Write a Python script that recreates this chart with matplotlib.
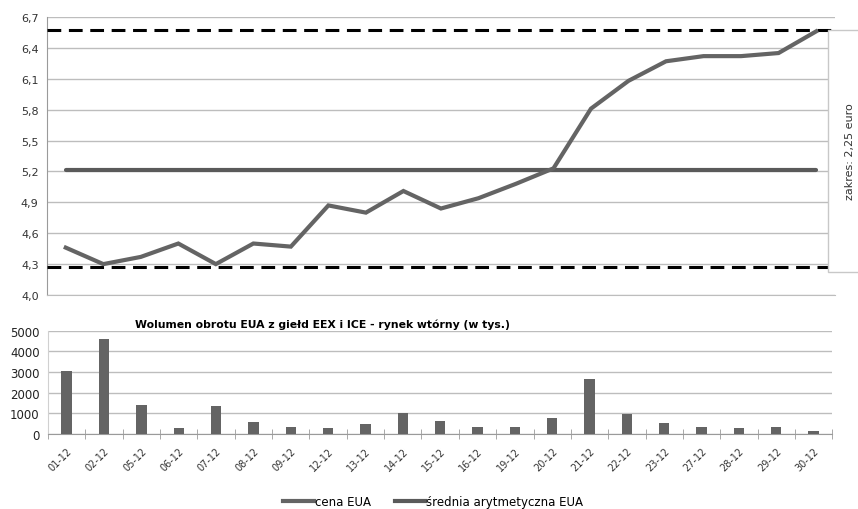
import numpy as np
import matplotlib
matplotlib.use("Agg")
import matplotlib.pyplot as plt
from matplotlib.patches import Rectangle
from matplotlib.lines import Line2D

# dane
dni = ["01-12", "02-12", "05-12", "06-12", "07-12", "08-12", "09-12", "12-12",
       "13-12", "14-12", "15-12", "16-12", "19-12", "20-12", "21-12", "22-12",
       "23-12", "27-12", "28-12", "29-12", "30-12"]
cena = [4.46, 4.30, 4.37, 4.50, 4.30, 4.50, 4.47, 4.87, 4.80, 5.01, 4.84,
        4.94, 5.08, 5.23, 5.81, 6.08, 6.27, 6.32, 6.32, 6.35, 6.56]
srednia = 5.21
wolumen = [3060, 4620, 1420, 270, 1350, 580, 350, 270, 470, 1010, 630,
           320, 320, 760, 2640, 950, 550, 320, 270, 320, 145]
tyt_wol = "Wolumen obrotu EUA z giełd EEX i ICE - rynek wtórny (w tys.)"
zakres_txt = "zakres: 2,25 euro"

x = np.arange(len(dni))
szary = "#646464"
siatka = "#bdbdbd"

fig = plt.figure(figsize=(8.58, 5.10), dpi=100)

# --- wykres ceny ---
ax1 = fig.add_axes([0.0548, 0.4196, 0.9182, 0.5451])
ax1.set_xlim(-0.5, len(dni) - 0.5)
ax1.set_ylim(4.0, 6.7)
yt = np.arange(4.0, 6.71, 0.3)
ax1.set_yticks(yt)
ax1.set_yticklabels([f"{v:.1f}".replace(".", ",") for v in yt], fontsize=8, color="#333333")
ax1.set_xticks([])
ax1.grid(axis="y", color=siatka, lw=1)
ax1.set_axisbelow(True)
for s in ["top", "right"]:
    ax1.spines[s].set_visible(False)
ax1.spines["bottom"].set_color(siatka)
ax1.spines["left"].set_color("#9a9a9a")
ax1.tick_params(axis="y", length=0, pad=6)

ax1.axhline(min(cena) - 0.025, color="black", lw=2.2, dashes=(4.5, 2.5), zorder=3)
ax1.axhline(max(cena) + 0.015, color="black", lw=2.2, dashes=(4.5, 2.5), zorder=3)
ax1.plot([x[0], x[-1]], [srednia, srednia], color="#5a5a5a", lw=3, solid_capstyle="round", zorder=4)
ax1.plot(x, cena, color=szary, lw=3, solid_joinstyle="miter", zorder=5)

# ramka z zakresem
box = Rectangle((828 / 858, 1 - 273 / 510), 0.08, (273 - 30.7) / 510,
                transform=fig.transFigure, facecolor="white", edgecolor="#c8c8c8",
                lw=1, zorder=6)
fig.add_artist(box)
fig.text(850 / 858, 1 - 152 / 510, zakres_txt, rotation=90, ha="center", va="center",
         fontsize=8, color="#333333", zorder=7)

# --- wykres wolumenu ---
ax2 = fig.add_axes([0.056, 0.147, 0.914, 0.2026])
ax2.bar(x, wolumen, width=0.28, color=szary, zorder=3)
ax2.set_xlim(-0.5, len(dni) - 0.5)
ax2.set_ylim(0, 5000)
ax2.set_yticks(np.arange(0, 5001, 1000))
ax2.tick_params(axis="y", length=0, labelsize=8.5, pad=6, labelcolor="#222222")
ax2.grid(axis="y", color=siatka, lw=1)
ax2.set_axisbelow(True)
for s in ["top", "right"]:
    ax2.spines[s].set_visible(False)
ax2.spines["left"].set_color("#d0d0d0")
ax2.spines["bottom"].set_color("#9a9a9a")
ax2.set_xticks(x)
ax2.set_xticklabels(dni, rotation=45, ha="right", rotation_mode="anchor", fontsize=7, color="#333333")
ax2.set_xticks(np.arange(-0.5, len(dni)), minor=True)
ax2.tick_params(axis="x", which="major", length=0, pad=8)
ax2.tick_params(axis="x", which="minor", length=7, direction="inout", color="#9a9a9a")

fig.text(135 / 858, 1 - 325 / 510, tyt_wol, fontsize=7.8, fontweight="bold", va="center", ha="left")

# legenda
uchwyty = [Line2D([], [], color=szary, lw=3), Line2D([], [], color="#5a5a5a", lw=3)]
fig.legend(uchwyty, ["cena EUA", "średnia arytmetyczna EUA"], loc="center",
           bbox_to_anchor=(0.505, 1 - 503 / 510), ncol=2, frameon=False, fontsize=8.5,
           handlelength=2.6, handletextpad=0.1, columnspacing=2.0)

fig.savefig("out.png", dpi=100)
